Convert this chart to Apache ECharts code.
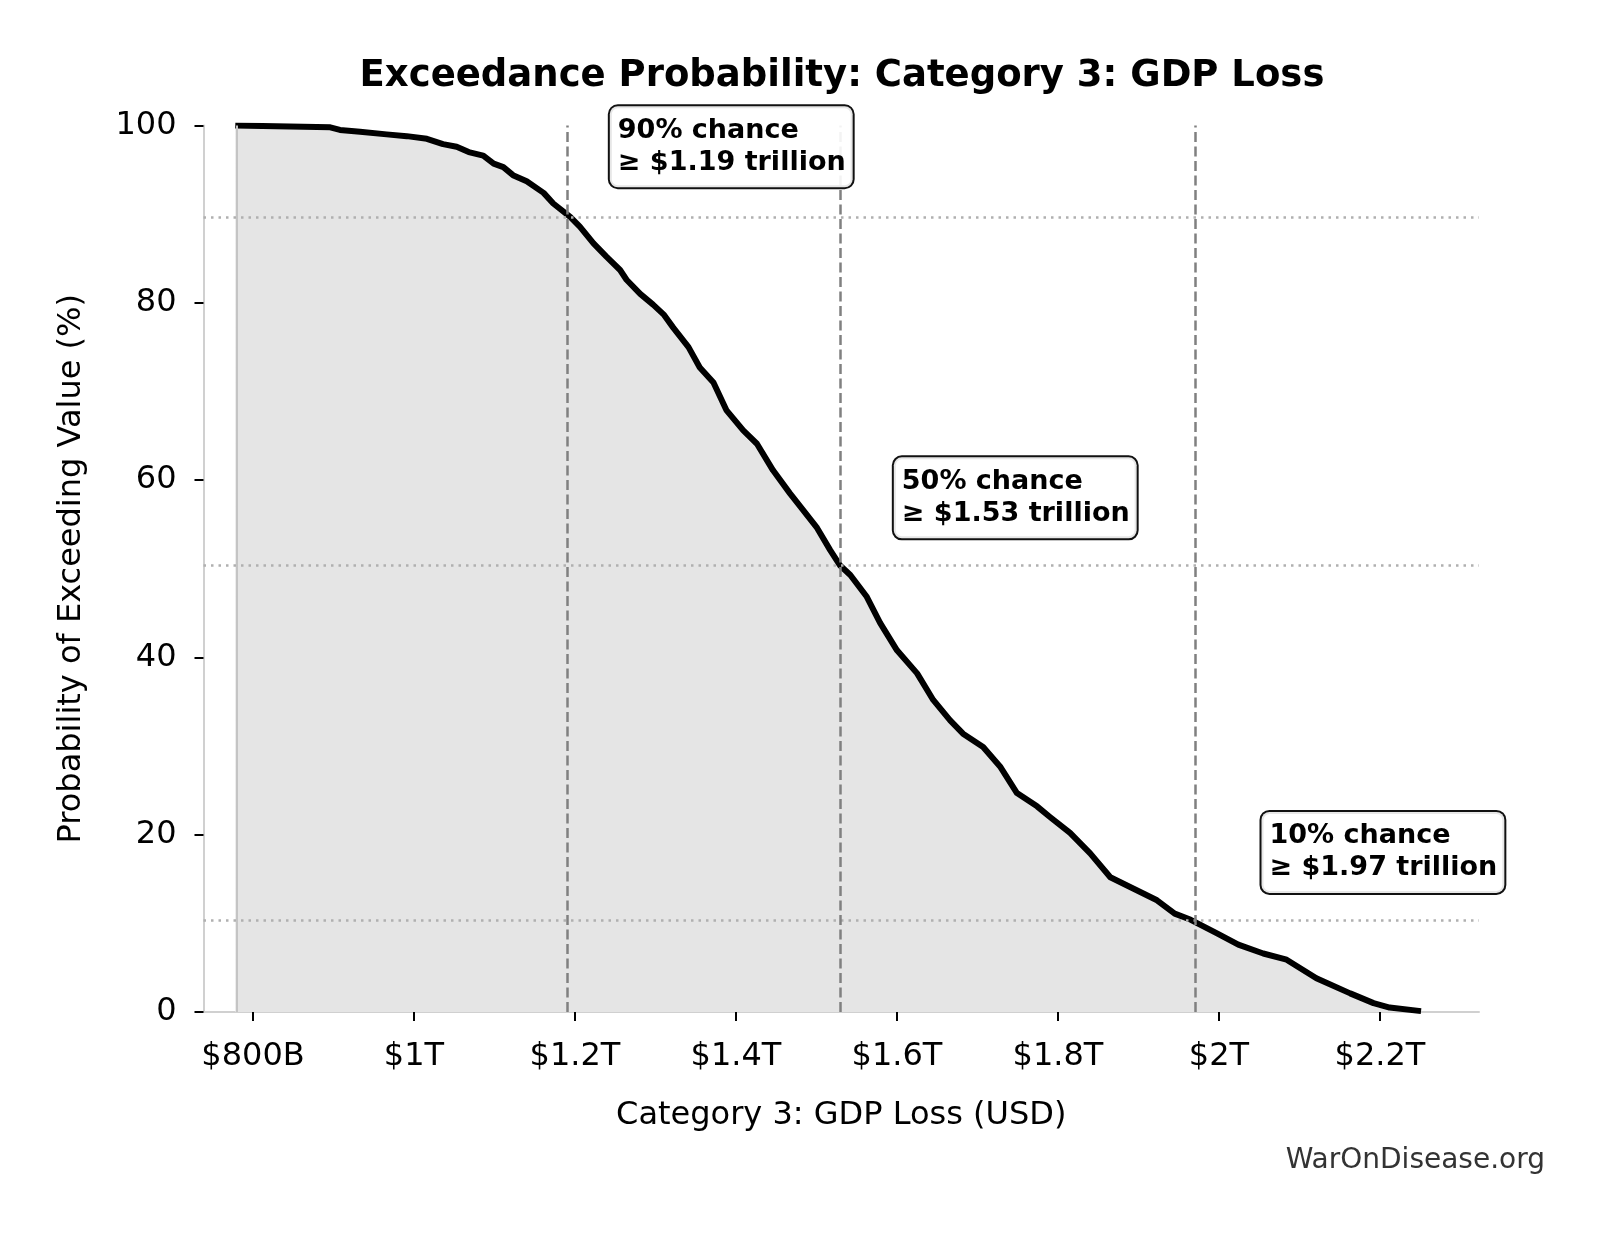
<!DOCTYPE html>
<html>
<head>
<meta charset="utf-8">
<title>Exceedance Probability</title>
<script src="https://cdn.jsdelivr.net/npm/echarts@6/dist/echarts.min.js"></script>
<style>
  html, body { margin: 0; padding: 0; background: #fff; }
  #main { width: 1603px; height: 1233px; }
</style>
</head>
<body>
<div id="main"></div>
<script>
// GDP loss (trillions USD) and probability of exceeding it (%)
const lossT = [
  0.778, 0.896, 0.908, 0.933, 0.966, 0.991, 1.016, 1.036, 1.053, 1.068,
  1.086, 1.099, 1.111, 1.123, 1.140, 1.161, 1.173, 1.194, 1.206, 1.223,
  1.239, 1.256, 1.264, 1.281, 1.297, 1.310, 1.322, 1.341, 1.355, 1.372,
  1.388, 1.409, 1.426, 1.446, 1.467, 1.480, 1.500, 1.517, 1.529, 1.542,
  1.562, 1.579, 1.600, 1.625, 1.645, 1.666, 1.682, 1.707, 1.728, 1.749,
  1.774, 1.790, 1.815, 1.840, 1.865, 1.894, 1.923, 1.945, 1.965, 1.997,
  2.024, 2.055, 2.084, 2.121, 2.163, 2.192, 2.212, 2.251
]
const exceedPct = [
  100, 99.8, 99.5, 99.3, 99.0, 98.8, 98.5, 97.9, 97.6, 97.0,
  96.6, 95.7, 95.3, 94.4, 93.7, 92.4, 91.2, 89.7, 88.6, 86.7,
  85.2, 83.7, 82.6, 81.0, 79.8, 78.7, 77.2, 75.0, 72.7, 71.0,
  67.9, 65.6, 64.1, 61.1, 58.5, 57.0, 54.7, 52.1, 50.4, 49.3,
  46.9, 43.9, 40.8, 38.2, 35.2, 32.9, 31.4, 29.9, 27.7, 24.7,
  23.2, 22.0, 20.2, 17.9, 15.2, 13.9, 12.6, 11.1, 10.4, 8.9,
  7.6, 6.6, 5.9, 3.8, 2.1, 1.0, 0.5, 0.1
]

// percentiles marked on the chart
const markPct = [90, 50, 10]
const markLoss = [1.194, 1.530, 1.965]
const markLossLabel = ['1.19', '1.53', '1.97']
const markPctLine = [89.7, 50.4, 10.4]

const xTicks = [0.8, 1.0, 1.2, 1.4, 1.6, 1.8, 2.0, 2.2]
const xTickLabels = ['$800B', '$1T', '$1.2T', '$1.4T', '$1.6T', '$1.8T', '$2T', '$2.2T']
const yTicks = [0, 20, 40, 60, 80, 100]

const FONT = 'DejaVu Sans'
const curve = lossT.map((v, i) => [v, exceedPct[i]])

var myChart = echarts.init(document.getElementById('main'))
var option = {
  animation: false,
  backgroundColor: '#fff',
  textStyle: { fontFamily: FONT },
  title: {
    text: 'Exceedance Probability: Category 3: GDP Loss',
    left: 837,
    top: 53,
    textAlign: 'center',
    textStyle: { fontFamily: FONT, fontSize: 37, fontWeight: 'bold', color: '#000' }
  },
  grid: { left: 203.5, right: 124, top: 125.5, bottom: 221 },
  xAxis: {
    type: 'value',
    min: 0.7385,
    max: 2.323,
    name: 'Category 3: GDP Loss (USD)',
    nameLocation: 'middle',
    nameGap: 88,
    nameTextStyle: { fontFamily: FONT, fontSize: 32, color: '#000' },
    axisLine: { show: true, onZero: false, lineStyle: { color: '#d0d0d0', width: 2 } },
    axisTick: {
      show: true, length: 9, customValues: xTicks,
      lineStyle: { color: '#000', width: 2 }
    },
    axisLabel: {
      customValues: xTicks,
      margin: 29,
      fontSize: 32,
      fontFamily: FONT,
      color: '#000',
      formatter: (v) => xTickLabels[xTicks.findIndex((t) => Math.abs(t - v) < 1e-6)]
    },
    splitLine: { show: false }
  },
  yAxis: {
    type: 'value',
    min: 0,
    max: 100,
    interval: 20,
    name: 'Probability of Exceeding Value (%)',
    nameLocation: 'middle',
    nameGap: 116,
    nameTextStyle: { fontFamily: FONT, fontSize: 32, color: '#000' },
    axisLine: { show: true, onZero: false, lineStyle: { color: '#d0d0d0', width: 2 } },
    axisTick: { show: true, length: 9, lineStyle: { color: '#000', width: 2 } },
    axisLabel: {
      margin: 27,
      fontSize: 32,
      fontFamily: FONT,
      color: '#000',
      formatter: (v) => (yTicks.includes(v) ? String(v) : '')
    },
    splitLine: { show: false }
  },
  series: [
    {
      // reference lines
      type: 'line',
      data: [],
      z: 2,
      silent: true,
      markLine: {
        silent: true,
        symbol: 'none',
        label: { show: false },
        animation: false,
        data: [
          { xAxis: lossT[0], lineStyle: { color: '#c4c4c4', width: 2, type: 'solid' } },
          ...markPctLine.map((p) => ({
            yAxis: p,
            lineStyle: { color: '#b0b0b0', width: 2.5, type: [2.5, 5] }
          })),
          ...markLoss.map((v) => ({
            xAxis: v,
            lineStyle: { color: '#808080', width: 2.5, type: [10, 4.5] }
          }))
        ]
      }
    },
    {
      name: 'Exceedance',
      type: 'line',
      data: curve,
      z: 3,
      showSymbol: false,
      symbol: 'none',
      lineStyle: { color: '#000', width: 6, join: 'round' },
      areaStyle: { color: '#e5e5e5', opacity: 1, origin: 'start' }
    },
    {
      // annotation boxes (text starts at 1.05x the threshold, box padding to the left)
      type: 'scatter',
      z: 5,
      silent: true,
      symbolSize: 0.1,
      itemStyle: { color: '#000', opacity: 1 },
      data: markPct.map((p, i) => ({
        value: [markLoss[i] * 1.05 - 0.0105, Math.min(p + 8, 97.6)],
        label: { formatter: `${p}% chance\n≥ $${markLossLabel[i]} trillion` }
      })),
      label: {
        show: true,
        position: 'right',
        distance: 0,
        opacity: 1,
        fontFamily: FONT,
        fontSize: 27,
        fontWeight: 'bold',
        lineHeight: 32,
        color: '#000',
        backgroundColor: 'rgba(255,255,255,0.9)',
        borderColor: '#111',
        borderWidth: 2,
        borderRadius: 8,
        padding: [9, 7, 8, 8]
      },
      labelLayout: { hideOverlap: false }
    }
  ],
  graphic: [
    {
      type: 'text',
      right: 58,
      top: 1147,
      style: {
        text: 'WarOnDisease.org',
        font: '28px "DejaVu Sans"',
        fill: '#333'
      }
    }
  ]
}
myChart.setOption(option)
</script>
</body>
</html>
